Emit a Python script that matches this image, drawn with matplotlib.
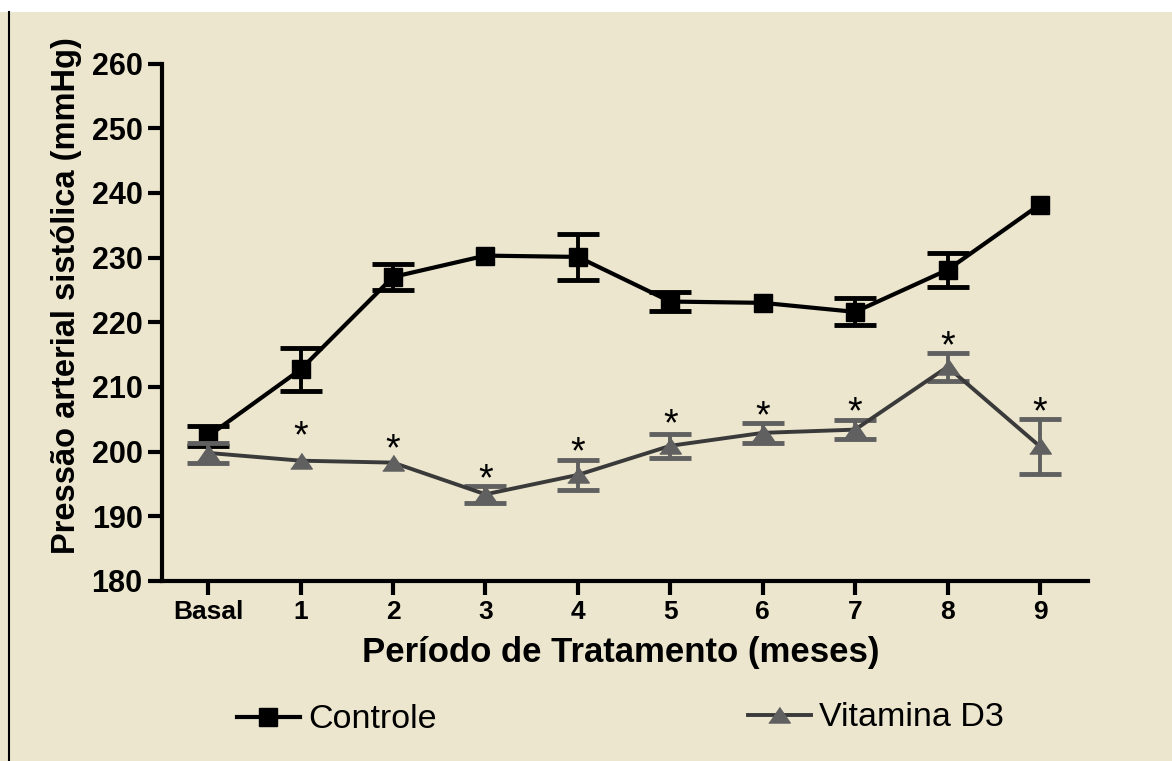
import numpy as np
import matplotlib
matplotlib.use('Agg')
import matplotlib.pyplot as plt
from matplotlib.patches import Rectangle
from matplotlib.lines import Line2D

plt.rcParams['font.family'] = ['Liberation Sans', 'DejaVu Sans']

# data
periodos = ['Basal', '1', '2', '3', '4', '5', '6', '7', '8', '9']
controle = [202.4, 212.7, 227.0, 230.3, 230.1, 223.2, 223.0, 221.6, 228.1, 238.2]
controle_err = [1.6, 3.3, 2.0, 0.0, 3.5, 1.4, 0.0, 2.1, 2.6, 0.0]
vitd3 = [199.8, 198.6, 198.3, 193.4, 196.4, 200.9, 202.9, 203.4, 213.1, 200.8]
vitd3_err = [1.6, 0.0, 0.0, 1.3, 2.3, 1.9, 1.6, 1.5, 2.2, 4.2]
# asterisk (p < 0.05) positions above Vitamina D3 points
star_y = [None, 203.1, 201.1, 196.4, 200.6, 204.9, 206.2, 206.8, 217.0, 206.8]

bg = '#ece6ce'
gray_mk = '#606060'
gray_ln = '#3a3a3a'

fig = plt.figure(figsize=(11.72, 7.61), dpi=100, facecolor='white')
fig.patches.append(Rectangle((0, 0), 1, 1 - 12 / 761, transform=fig.transFigure,
                             facecolor=bg, edgecolor='none', zorder=-10))
fig.lines.append(Line2D([9 / 1172, 9 / 1172], [0, 1 - 12 / 761], transform=fig.transFigure,
                        color='black', lw=1.5))

ax = fig.add_axes([162 / 1172, 1 - 581 / 761, 926 / 1172, (581 - 63.5) / 761])
ax.set_facecolor(bg)
ax.patch.set_alpha(0)

x = np.arange(len(periodos))
c = np.array(controle)
ce = np.array(controle_err)
v = np.array(vitd3)
ve = np.array(vitd3_err)

# controle
m = ce > 0
ax.errorbar(x[m], c[m], yerr=ce[m], fmt='none', ecolor='black', elinewidth=2.8,
            capsize=15, capthick=3.5, zorder=2)
ax.plot(x, c, color='black', lw=3, marker='s', ms=12.5, zorder=3)

# vitamina D3
tri = [(-1, -0.7), (1, -0.7), (0, 0.75)]
m = ve > 0
ax.errorbar(x[m], v[m], yerr=ve[m], fmt='none', ecolor=gray_mk, elinewidth=2.8,
            capsize=15, capthick=3.5, zorder=4)
ax.plot(x, v, color=gray_ln, lw=2.8, zorder=5)
ax.plot(x, v, ls='none', marker=tri, ms=15.5, color=gray_mk, zorder=6)

for xi, sy in zip(x, star_y):
    if sy is not None:
        ax.annotate('*', (xi, sy), xytext=(0, -4), textcoords='offset points',
                    ha='center', va='center', fontsize=27, color='black')

ax.set_xlim(-0.5, 9.52)
ax.set_ylim(180, 260)
ax.set_yticks(np.arange(180, 261, 10))
ax.set_xticks(x)
ax.set_xticklabels(periodos)

for s in ['top', 'right']:
    ax.spines[s].set_visible(False)
for s in ['left', 'bottom']:
    ax.spines[s].set_linewidth(3)

ax.tick_params(axis='both', direction='out', length=10, width=3, pad=4)
for lab in ax.get_yticklabels():
    lab.set_fontsize(22)
    lab.set_fontweight('bold')
for lab in ax.get_xticklabels():
    lab.set_fontsize(19)
    lab.set_fontweight('bold')

ax.set_ylabel('Pressão arterial sistólica (mmHg)', fontsize=23.5, fontweight='bold')
ax.yaxis.set_label_coords(-0.086, 0.551)
ax.set_xlabel('Período de Tratamento (meses)', fontsize=25, fontweight='bold')
ax.xaxis.set_label_coords(0.495, -0.106)

h1 = Line2D([], [], color='black', lw=3, marker='s', ms=12.5)
h2 = Line2D([], [], color=gray_ln, lw=2.8, marker=tri, ms=15.5, mfc=gray_mk, mec=gray_mk)
leg1 = fig.legend([h1], ['Controle'], loc='center left', bbox_to_anchor=(237 / 1172, 1 - 720 / 761),
                  frameon=False, fontsize=24.5, borderpad=0, borderaxespad=0,
                  handlelength=1.85, handletextpad=0.25)
leg2 = fig.legend([h2], ['Vitamina D3'], loc='center left', bbox_to_anchor=(748 / 1172, 1 - 718 / 761),
                  frameon=False, fontsize=24.5, borderpad=0, borderaxespad=0,
                  handlelength=1.85, handletextpad=0.25)

fig.savefig('out.png', dpi=100, facecolor=fig.get_facecolor())
